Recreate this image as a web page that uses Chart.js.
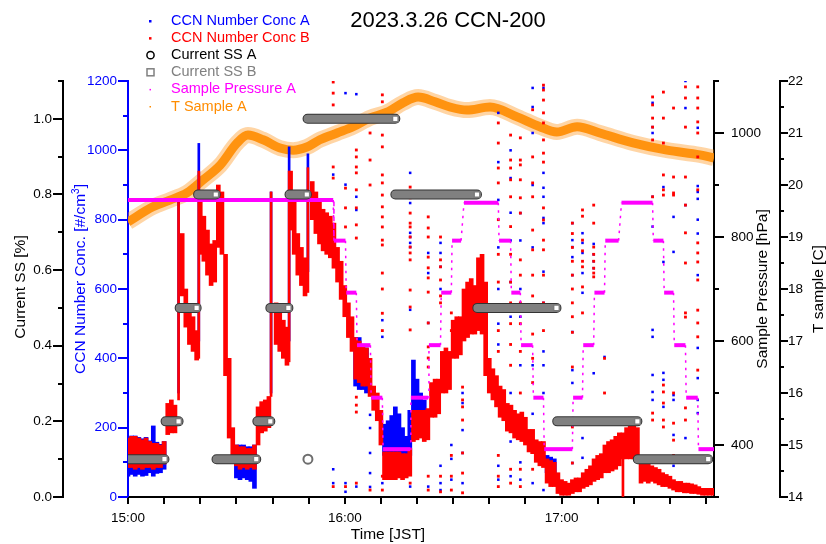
<!DOCTYPE html>
<html>
<head>
<meta charset="utf-8">
<title>2023.3.26 CCN-200</title>
<script src="https://cdn.jsdelivr.net/npm/chart.js@4.4.1/dist/chart.umd.min.js"></script>
<style>
	html, body { margin: 0; padding: 0; background: #fff; }
	canvas { display: block; }
</style>
</head>
<body>
<canvas id="chart" width="826" height="544"></canvas>
<script>
// time is minutes after 15:00 JST
const hourLabels = ["15:00", "16:00", "17:00"];
const legendLabels = ["CCN Number Conc A", "CCN Number Conc B", "Current SS A", "Current SS B", "Sample Pressure A", "T Sample A"];

// dense CCN band, one entry per minute (low / high edge of the cloud of points)
const bandTime = [
	0, 1, 2, 3, 4, 5, 6, 7, 8, 9, 10, 11, 12, 13, 14, 15, 16, 17, 18, 19,
	20, 21, 22, 23, 24, 25, 26, 27, 28, 29, 30, 31, 32, 33, 34, 35, 36, 37, 38, 39,
	40, 41, 42, 43, 44, 45, 46, 47, 48, 49, 50, 51, 52, 53, 54, 55, 56, 57, 58, 59,
	60, 61, 62, 63, 64, 65, 66, 67, 68, 69, 70, 71, 72, 73, 74, 75, 76, 77, 78, 79,
	80, 81, 82, 83, 84, 85, 86, 87, 88, 89, 90, 91, 92, 93, 94, 95, 96, 97, 98, 99,
	100, 101, 102, 103, 104, 105, 106, 107, 108, 109, 110, 111, 112, 113, 114, 115, 116, 117, 118, 119,
	120, 121, 122, 123, 124, 125, 126, 127, 128, 129, 130, 131, 132, 133, 134, 135, 136, 137, 138, 139,
	140, 141, 142, 143, 144, 145, 146, 147, 148, 149, 150, 151, 152, 153, 154, 155, 156, 157, 158, 159,
	160, 161, 162
];
const ccnBLow = [
	85, 85, 80, 85, 80, 85, 85, 80, 85, 85,
	95, 180, 185, 185, null, 580, 490, 440, 420, 395,
	700, 680, 640, 610, 620, 720, 700, 350, 170, 110,
	90, 80, 85, 80, 85, 80, 150, 185, 190, 200,
	null, 440, 420, 400, 380, 770, 700, 640, 610, 580,
	null, 800, 760, 730, 710, 700, 690, 660, 620, 570,
	520, 460, 420, 340, 330, 320, 320, 290, 250, 220,
	150, 50, 50, 50, 50, 55, 50, 55, 60, 160,
	165, 170, 160, 165, 230, 230, 240, 300, 300, 310,
	400, 400, 410, 450, 460, 470, 470, 480, 470, 350,
	300, 280, 260, 230, 220, 190, 185, 170, 165, 160,
	150, 130, 125, 100, 90, 85, 40, 30, 30, 10,
	5, 5, 5, 10, 15, 15, 25, 30, 35, 45,
	50, 55, 70, 70, 75, 80, 90, 110, 110, 110,
	110, 100, 40, 45, 40, 45, 40, 35, 30, 30,
	25, 20, 15, 15, 12, 12, 10, 10, 8, 5,
	5, 5, 5
];
const ccnBHigh = [
	170, 175, 175, 170, 165, 170, 160, 155, 155, 150,
	160, 270, 280, 265, null, 760, 600, 550, 520, 480,
	850, 810, 770, 730, 740, 900, 880, 700, 400, 200,
	150, 145, 145, 140, 140, 150, 260, 275, 280, 290,
	null, 560, 530, 510, 490, 940, 850, 760, 720, 690,
	null, 910, 880, 850, 830, 820, 810, 790, 720, 680,
	610, 560, 520, 460, 450, 440, 430, 400, 320, 300,
	250, 130, 130, 130, 130, 130, 125, 125, 140, 250,
	250, 250, 250, 255, 330, 340, 340, 420, 430, 420,
	510, 520, 520, 600, 620, 630, 610, 690, 700, 620,
	400, 370, 350, 320, 310, 270, 265, 250, 240, 245,
	230, 195, 195, 165, 160, 160, 110, 105, 100, 70,
	50, 45, 40, 50, 55, 55, 70, 80, 90, 110,
	120, 125, 150, 160, 165, 175, 185, 185, 200, 205,
	210, 200, 110, 100, 95, 90, 85, 80, 70, 65,
	60, 50, 45, 45, 40, 40, 38, 35, 30, 25,
	25, 25, 25
];

// blue band, only where it shows outside the red one
const ccnATime = [0, 1, 2, 3, 4, 5, 6, 7, 8, 9, 10, 30, 31, 32, 33, 34, 35, 63, 64, 65, 66, 71, 72, 73, 74, 75, 76, 77, 78, 79, 80, 81, 82, 116, 117, 118];
const ccnALow = [60, 65, 60, 65, 60, 62, 70, 60, 68, 70, 80, 55, 50, 55, 50, 45, 25, 320, 310, 310, 300, 120, 125, 130, 130, 130, 120, 110, 120, 240, 240, 230, 200, 70, 70, 60];
const ccnAHigh = [172, 176, 176, 172, 168, 172, 162, 205, 158, 152, 160, 150, 150, 150, 145, 145, 150, 460, 460, 440, 430, 210, 220, 235, 260, 240, 200, 175, 250, 395, 340, 300, 280, 120, 115, 110];

// thin vertical runs when the concentration jumps
const strandTime = [14.0, 19.6, 39.6, 44.6, 49.8, 137.0];
const strandBLow = [280, 400, 290, 390, 590, 0];
const strandBHigh = [850, 940, 880, 940, 950, 180];
const strandALow = [300, 450, 300, 450, 650, null];
const strandAHigh = [860, 1020, 880, 1010, 990, null];

// scattered points at each pressure switch
const spikeTime = [56.8, 60.2, 63.2, 67.0, 70.4, 78.1, 83.1, 86.5, 89.5, 92.6, 102.5, 105.9, 108.6, 112.0, 115.0, 123.0, 125.8, 128.9, 131.9, 145.2, 148.2, 151.0, 154.3, 157.7];
const spikeB = [
	[1197, 1165, 1131, 952, 920, 762, 30],
	[891, 834, 779, 30],
	[1001, 981, 952, 935, 886, 834, 785, 747, 288, 265, 245, 40],
	[1050, 972, 900, 20],
	[1160, 1140, 1044, 1010, 929, 906, 871, 837, 808, 779, 741, 727, 646, 600, 530, 480, 60, 20],
	[894, 863, 819, 790, 779, 750, 721, 704, 684, 597, 548, 482, 40],
	[808, 776, 750, 692, 661, 632, 591, 502, 433, 401, 375, 60, 20],
	[750, 684, 664, 626, 580, 560, 60, 15],
	[531, 480, 120, 60, 20],
	[317, 280, 260, 222, 127, 69, 12],
	[1079, 1021, 949, 906, 800, 700, 620, 480, 420, 120, 60, 30],
	[1044, 972, 949, 915, 866, 780, 700, 620, 560, 500, 440, 380, 80, 40],
	[1036, 972, 958, 915, 863, 819, 684, 640, 560, 500, 420, 300, 80, 30],
	[1117, 981, 906, 866, 770, 713, 640, 580, 470, 400, 330, 150, 80],
	[1188, 1174, 1145, 1108, 1079, 1030, 992, 966, 834, 799, 741, 713, 640, 560, 480],
	[790, 760, 720, 680, 640, 600, 560, 520, 475, 375, 202, 98],
	[828, 810, 741, 710, 680, 664, 606, 531],
	[842, 790, 721, 700, 680, 660, 646, 635],
	[400, 300],
	[1154, 1131, 1093, 1067, 1030, 866, 242, 222],
	[1168, 1093, 1021, 929, 886, 871, 323, 303, 271, 222, 202, 100, 60],
	[1122, 923, 877, 871, 300, 213, 164, 120],
	[1183, 1151, 1067, 923, 842, 762, 675, 531, 519, 257, 222],
	[1183, 1151, 1122, 1082, 1050, 981, 886, 733, 704, 678, 626, 539, 502, 462, 366]
];
const spikeA = [
	[930, 80, 40],
	[1165, 901, 40, 15],
	[1162, 866, 828, 30],
	[237, 199, 127, 69, 29],
	[510, 462, 40],
	[935, 848, 762, 750, 733, 721, 540, 30],
	[704, 646, 502, 30],
	[733, 704, 664, 600, 90, 40, 20],
	[150, 110, 50],
	[300, 271, 193, 127, 40],
	[1108, 966, 857, 720, 600, 500, 440, 90, 50],
	[1000, 920, 820, 740, 620, 520, 300, 160, 60],
	[819, 740, 600, 520, 380, 100, 50],
	[1180, 1125, 1050, 900, 720, 380, 240, 40],
	[1180, 935, 892, 866, 805, 790, 650, 560, 420, 380, 300, 140, 20],
	[790, 741, 721, 692, 640, 476, 366, 329, 98],
	[761, 733, 704, 646, 589, 170, 113],
	[730, 700, 680, 660, 357],
	[404],
	[1137, 1067, 1050, 866, 780, 482, 462, 352, 303, 280],
	[894, 678, 358, 338, 260],
	[808, 707, 294, 280, 179, 90],
	[1200, 1122, 842, 170],
	[1065, 897, 880, 860, 800, 760, 640, 430, 343, 280, 242]
];

// supersaturation steps
const ssStart = [0, 10.4, 14.3, 19.4, 24.5, 35.8, 39.4, 44.7, 49.7, 74.0, 96.7, 118.8, 141.1];
const ssEnd = [10.1, 14.0, 19.0, 24.3, 35.5, 39.4, 44.4, 49.5, 74.0, 96.6, 118.6, 141.0, 160.6];
const ssValue = [0.1, 0.2, 0.5, 0.8, 0.1, 0.2, 0.5, 0.8, 1.0, 0.8, 0.5, 0.2, 0.1];
const ssALoneTime = [49.8];
const ssALoneValue = [0.1];

const presTime = [0, 56.8, 57.0, 60.2, 60.4, 63.2, 63.4, 67.1, 67.3, 70.4, 70.6, 78.1, 78.3, 83.1, 83.3, 86.5, 86.7, 89.5, 89.7, 92.2, 93.0, 102.5, 102.7, 105.9, 106.1, 108.6, 108.8, 112.0, 112.2, 115.0, 115.2, 123.0, 123.2, 125.8, 126.0, 128.9, 129.1, 131.9, 132.1, 135.8, 136.6, 145.2, 145.4, 148.2, 148.4, 151.0, 151.2, 154.3, 154.5, 157.7, 157.9, 162.2];
const presValue = [871, 871, 793, 793, 693, 693, 592, 592, 491, 491, 392, 392, 491, 491, 592, 592, 693, 693, 793, 793, 866, 866, 793, 793, 693, 693, 592, 592, 491, 491, 392, 392, 491, 491, 592, 592, 693, 693, 793, 793, 866, 866, 793, 793, 693, 693, 592, 592, 491, 491, 392, 392];

const tempTime = [0, 6.9, 11.6, 16.3, 20.8, 25.5, 30.2, 33.2, 37.4, 42.1, 45.7, 49.5, 53.1, 57.9, 62.3, 67.0, 71.7, 76.1, 80.3, 85.0, 89.1, 93.8, 100.2, 107.7, 114.0, 118.7, 124.3, 130.6, 139.8, 149.2, 158.3, 162.2];
const tempValue = [19.29, 19.58, 19.71, 19.85, 20.10, 20.38, 20.81, 20.96, 20.87, 20.71, 20.67, 20.73, 20.87, 21.00, 21.12, 21.29, 21.40, 21.58, 21.69, 21.60, 21.50, 21.44, 21.50, 21.31, 21.12, 21.02, 21.12, 21.00, 20.81, 20.67, 20.58, 20.52];

(() => {
	const BLUE = "#0000ff";
	const RED = "#ff0000";
	const MAGENTA = "#ff00ff";
	const ORANGE = "#ff8c00";
	const GRAY = "#808080";
	const FONT = "'Liberation Sans', Arial, sans-serif";

	function floatBars(times, lows, highs) {
		const out = [];
		times.forEach((t, i) => {
			if (lows[i] !== null && highs[i] !== null) {
				out.push({ x: t, y: [lows[i], highs[i]] });
			}
		});
		return out;
	}

	function spikePoints(columns) {
		const out = [];
		spikeTime.forEach((t, i) => {
			columns[i].forEach((v) => out.push({ x: t, y: v }));
		});
		return out;
	}

	function ssSegments() {
		const out = [];
		ssStart.forEach((s, i) => {
			out.push({ x: s, y: ssValue[i] }, { x: ssEnd[i], y: ssValue[i] }, { x: ssEnd[i], y: null });
		});
		return out;
	}

	const pairs = (xs, ys) => xs.map((x, i) => ({ x, y: ys[i] }));

	Chart.defaults.font.family = FONT;
	Chart.defaults.font.size = 13.5;
	Chart.defaults.color = "#000";

	const hidden = "rgba(0,0,0,0)";

	function yAxis(position, weight, min, max, step, tickLength, padding, color, width, labelFn) {
		return {
			type: "linear",
			position,
			weight,
			min,
			max,
			grid: { display: true, drawOnChartArea: false, drawTicks: true, tickLength, color: hidden },
			border: { display: true, color, width: 2 },
			ticks: { stepSize: step, autoSkip: false, padding, color, callback: labelFn },
			afterFit: (scale) => { scale.width = width; }
		};
	}

	const isEvenStep = (v, step) => Math.round(v / step) % 2 === 0;

	const tickLengths = { x: [7, 7], ss: [10, 5], ccn: [10, 5], pres: [10, 5], temp: [8, 4] };

	function drawTicks(ctx, scale) {
		const spec = tickLengths[scale.id];
		ctx.strokeStyle = scale.id === "ccn" ? BLUE : "#000";
		ctx.lineWidth = 2;
		scale.ticks.forEach((tick) => {
			const len = tick.label !== "" ? spec[0] : spec[1];
			const p = Math.round(scale.getPixelForValue(tick.value));
			ctx.beginPath();
			if (scale.id === "x") {
				ctx.moveTo(p, scale.top);
				ctx.lineTo(p, scale.top + len);
			}
			else if (scale.position === "left") {
				ctx.moveTo(scale.right, p);
				ctx.lineTo(scale.right - len, p);
			}
			else {
				ctx.moveTo(scale.left, p);
				ctx.lineTo(scale.left + len, p);
			}
			ctx.stroke();
		});
	}

	function verticalText(ctx, parts, x, y, color) {
		ctx.save();
		ctx.translate(x, y);
		ctx.rotate(-Math.PI / 2);
		ctx.fillStyle = color;
		ctx.textBaseline = "middle";
		ctx.textAlign = "left";
		let total = 0;
		parts.forEach((p) => {
			ctx.font = p.sup ? "10px " + FONT : "15.5px " + FONT;
			total += ctx.measureText(p.text).width;
		});
		let pos = -total / 2;
		parts.forEach((p) => {
			ctx.font = p.sup ? "10px " + FONT : "15.5px " + FONT;
			ctx.fillText(p.text, pos, p.sup ? -5 : 0);
			pos += ctx.measureText(p.text).width;
		});
		ctx.restore();
	}

	const decor = {
		id: "decor",
		beforeDraw(chart) {
			const ctx = chart.ctx;
			ctx.save();
			ctx.fillStyle = "#fff";
			ctx.fillRect(0, 0, chart.width, chart.height);
			ctx.restore();
		},
		afterDraw(chart) {
			const ctx = chart.ctx;
			ctx.save();
			Object.values(chart.scales).forEach((scale) => drawTicks(ctx, scale));

			// axis titles
			verticalText(ctx, [{ text: "Current SS [%]" }], 21, 287, "#000");
			verticalText(ctx, [{ text: "CCN Number Conc. [#/cm" }, { text: "3", sup: true }, { text: "]" }], 81, 279, BLUE);
			verticalText(ctx, [{ text: "Sample Pressure [hPa]" }], 763, 289, "#000");
			verticalText(ctx, [{ text: "T sample [C]" }], 819, 289, "#000");
			ctx.fillStyle = "#000";
			ctx.font = "15.5px " + FONT;
			ctx.textAlign = "center";
			ctx.textBaseline = "middle";
			ctx.fillText("Time [JST]", 388, 535);

			// title
			ctx.font = "22px " + FONT;
			ctx.fillText("2023.3.26 CCN-200", 448, 21);

			// legend
			const colors = [BLUE, RED, "#000", GRAY, MAGENTA, ORANGE];
			ctx.font = "14.5px " + FONT;
			ctx.textAlign = "left";
			legendLabels.forEach((label, i) => {
				const y = 21 + i * 17.1;
				ctx.fillStyle = colors[i];
				ctx.strokeStyle = colors[i];
				ctx.lineWidth = 1.5;
				if (i === 0 || i === 1) {
					ctx.fillRect(149, y - 1, 2.5, 2.5);
				}
				else if (i === 2) {
					ctx.beginPath();
					ctx.arc(150.5, y, 3.6, 0, Math.PI * 2);
					ctx.stroke();
				}
				else if (i === 3) {
					ctx.strokeRect(147, y - 3.5, 7, 7);
				}
				else {
					ctx.fillRect(149.5, y - 0.5, 1.5, 1.5);
				}
				ctx.fillText(label, 171, y);
			});
			ctx.restore();
		}
	};

	new Chart(document.getElementById("chart"), {
		type: "scatter",
		data: {
			datasets: [
				{
					type: "line",
					label: legendLabels[3],
					xAxisID: "x",
					yAxisID: "ss",
					order: 1,
					data: ssSegments(),
					borderColor: GRAY,
					borderWidth: 8,
					borderCapStyle: "round",
					spanGaps: false,
					pointStyle: "rect",
					pointRadius: (c) => (c.dataIndex % 3 === 1 ? 4 : 0),
					pointBackgroundColor: "#fff",
					pointBorderColor: "#7a7a7a",
					pointBorderWidth: 1.5,
					clip: 0
				},
				{
					type: "line",
					label: legendLabels[2],
					xAxisID: "x",
					yAxisID: "ss",
					order: 2,
					data: ssSegments(),
					borderColor: "#333",
					borderWidth: 10,
					borderCapStyle: "round",
					spanGaps: false,
					pointRadius: 0,
					clip: 0
				},
				{
					type: "scatter",
					label: legendLabels[2],
					xAxisID: "x",
					yAxisID: "ss",
					order: 3,
					data: pairs(ssALoneTime, ssALoneValue),
					pointStyle: "circle",
					pointRadius: 4.5,
					pointBackgroundColor: "#fff",
					pointBorderColor: "#6e6e6e",
					pointBorderWidth: 2,
					clip: 0
				},
				{
					type: "line",
					label: legendLabels[4],
					xAxisID: "x",
					yAxisID: "pres",
					order: 4,
					data: pairs(presTime, presValue),
					borderColor: MAGENTA,
					borderWidth: 4,
					pointRadius: 0,
					segment: {
						borderWidth: (c) => (Math.abs(c.p0.parsed.y - c.p1.parsed.y) > 1 ? 1.5 : undefined),
						borderDash: (c) => (Math.abs(c.p0.parsed.y - c.p1.parsed.y) > 1 ? [2.5, 5] : undefined)
					},
					clip: 0
				},
				{
					type: "scatter",
					label: legendLabels[1],
					xAxisID: "x",
					yAxisID: "ccn",
					order: 5,
					data: spikePoints(spikeB),
					pointStyle: "rect",
					pointRadius: 2,
					pointBorderWidth: 0,
					pointBackgroundColor: RED,
					clip: 0
				},
				{
					type: "bar",
					label: legendLabels[1],
					xAxisID: "x",
					yAxisID: "ccn",
					order: 6,
					grouped: false,
					barThickness: 2,
					data: floatBars(strandTime, strandBLow, strandBHigh),
					backgroundColor: RED,
					borderWidth: 0,
					clip: 0
				},
				{
					type: "bar",
					label: legendLabels[1],
					xAxisID: "x",
					yAxisID: "ccn",
					order: 7,
					grouped: false,
					barThickness: 4,
					data: floatBars(bandTime, ccnBLow, ccnBHigh),
					backgroundColor: RED,
					borderWidth: 0,
					clip: 0
				},
				{
					type: "scatter",
					label: legendLabels[0],
					xAxisID: "x",
					yAxisID: "ccn",
					order: 8,
					data: spikePoints(spikeA),
					pointStyle: "rect",
					pointRadius: 1.8,
					pointBorderWidth: 0,
					pointBackgroundColor: BLUE,
					clip: 0
				},
				{
					type: "bar",
					label: legendLabels[0],
					xAxisID: "x",
					yAxisID: "ccn",
					order: 9,
					grouped: false,
					barThickness: 2,
					data: floatBars(strandTime, strandALow, strandAHigh),
					backgroundColor: BLUE,
					borderWidth: 0,
					clip: 0
				},
				{
					type: "bar",
					label: legendLabels[0],
					xAxisID: "x",
					yAxisID: "ccn",
					order: 10,
					grouped: false,
					barThickness: 4,
					data: floatBars(ccnATime, ccnALow, ccnAHigh),
					backgroundColor: BLUE,
					borderWidth: 0,
					clip: 0
				},
				{
					// core of the temperature cloud
					type: "line",
					label: legendLabels[5],
					xAxisID: "x",
					yAxisID: "temp",
					order: 11,
					data: pairs(tempTime, tempValue),
					borderColor: "rgba(255, 140, 0, 0.9)",
					borderWidth: 9,
					cubicInterpolationMode: "monotone",
					pointRadius: 0,
					clip: 0
				},
				{
					// fuzzy edge of the same cloud
					type: "line",
					label: legendLabels[5],
					xAxisID: "x",
					yAxisID: "temp",
					order: 12,
					data: pairs(tempTime, tempValue),
					borderColor: "rgba(255, 150, 30, 0.4)",
					borderWidth: 16,
					cubicInterpolationMode: "monotone",
					pointRadius: 0,
					clip: 0
				}
			]
		},
		options: {
			responsive: false,
			devicePixelRatio: 1,
			animation: false,
			events: [],
			layout: { padding: { top: 81, left: 0, right: 0, bottom: 0 } },
			plugins: {
				legend: { display: false },
				title: { display: false },
				tooltip: { enabled: false }
			},
			scales: {
				x: {
					type: "linear",
					position: "bottom",
					min: 0,
					max: 162.2,
					offset: false,
					grid: { display: true, offset: false, drawOnChartArea: false, drawTicks: true, tickLength: 8, color: hidden },
					border: { display: true, color: "#000", width: 2 },
					ticks: {
						stepSize: 10,
						autoSkip: false,
						includeBounds: false,
						maxRotation: 0,
						padding: 5,
						callback: (v) => (v % 60 === 0 ? hourLabels[v / 60] : "")
					},
					afterFit: (scale) => { scale.height = 47; }
				},
				ss: yAxis("left", 2, 0, 1.1, 0.1, 9, 2, "#000", 63, (v) => (isEvenStep(v, 0.1) ? v.toFixed(1) : "")),
				ccn: yAxis("left", 1, 0, 1200, 100, 9, 2, BLUE, 65, (v) => (isEvenStep(v, 100) ? String(v) : "")),
				pres: yAxis("right", 1, 300, 1100, 100, 9, 8, "#000", 66, (v) => (isEvenStep(v, 100) ? String(v) : "")),
				temp: yAxis("right", 2, 14, 22, 0.5, 7, 1, "#000", 46, (v) => (isEvenStep(v, 0.5) ? String(v) : ""))
			}
		},
		plugins: [decor]
	});
})();
</script>
</body>
</html>
